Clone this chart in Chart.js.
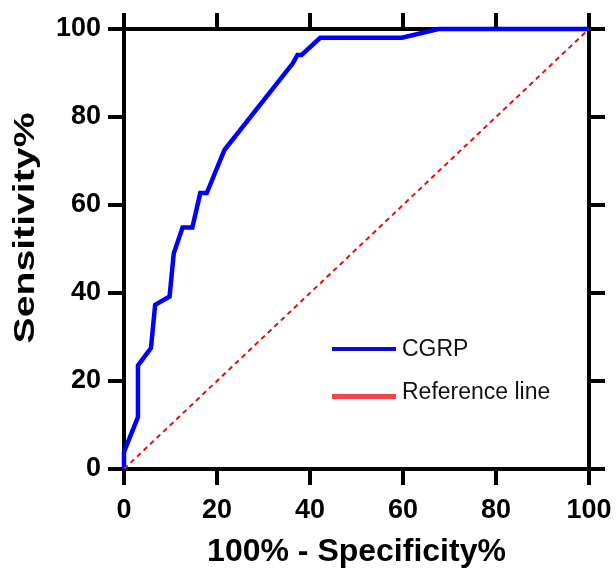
<!DOCTYPE html>
<html>
<head>
<meta charset="utf-8">
<script src="https://cdn.jsdelivr.net/npm/chart.js@4/dist/chart.umd.min.js"></script>
<style>
  html, body { margin: 0; padding: 0; background: #fff; }
  #wrap { width: 616px; height: 573px; }
</style>
</head>
<body>
<div id="wrap"><canvas id="c" width="616" height="573"></canvas></div>
<script>
// ---- data ----
const cgrpFpr = [0, 0, 3, 3, 5.8, 6.7, 9.8, 10.7, 12.6, 14.7, 16.4, 17.8, 21.6, 36.3, 37.3, 38.2, 42.2, 59.8, 67.6, 100];
const cgrpTpr = [0, 3.9, 11.8, 23.5, 27.5, 37.3, 39.2, 49.0, 54.9, 54.9, 62.7, 62.7, 72.5, 92.2, 94.1, 94.1, 98.0, 98.0, 100, 100];
const refX = [0, 100];
const refY = [0, 100];
const axisTicks = [0, 20, 40, 60, 80, 100];
const seriesNames = ['CGRP', 'Reference line'];
const xTitle = '100% - Specificity%';
const yTitle = 'Sensitivity%';

const FONT = '"Liberation Sans", Arial, Helvetica, sans-serif';
const toPts = (xs, ys) => xs.map((x, i) => ({ x: x, y: ys[i] }));

const boxAxis = (pos, size) => ({
  type: 'linear', position: pos, min: axisTicks[0], max: axisTicks[axisTicks.length - 1],
  afterBuildTicks: s => { s.ticks = axisTicks.map(v => ({ value: v })); },
  ticks: { display: false },
  grid: { drawOnChartArea: false, drawTicks: true, tickLength: 16, lineWidth: 4, color: '#000' },
  border: { display: true, color: '#000', width: 4 },
  afterFit: s => {
    if (pos === 'top' || pos === 'bottom') { s.height = size; } else { s.width = size; }
    s.paddingLeft = 0; s.paddingRight = 0; s.paddingTop = 0; s.paddingBottom = 0;
  }
});

const annot = {
  id: 'annot',
  afterDraw(chart) {
    const ctx = chart.ctx;
    // Y axis title
    ctx.save();
    ctx.font = 'bold 29px ' + FONT;
    ctx.fillStyle = '#000';
    ctx.textAlign = 'center';
    ctx.textBaseline = 'middle';
    const w = ctx.measureText(yTitle).width;
    ctx.translate(26, 228);
    ctx.rotate(-Math.PI / 2);
    ctx.scale(231 / w, 1);
    ctx.fillText(yTitle, 0, 0);
    ctx.restore();
    // Legend
    ctx.save();
    const items = [
      { label: seriesNames[0], color: '#0a0ad2', y: 349, lw: 4 },
      { label: seriesNames[1], color: '#f04646', y: 396.5, lw: 5 }
    ];
    ctx.font = '23px ' + FONT;
    ctx.textAlign = 'left';
    ctx.textBaseline = 'middle';
    items.forEach((it, i) => {
      ctx.strokeStyle = it.color;
      ctx.lineWidth = it.lw;
      ctx.beginPath();
      ctx.moveTo(332, it.y);
      ctx.lineTo(396, it.y);
      ctx.stroke();
      ctx.fillStyle = '#111';
      ctx.fillText(it.label, 402, it.y + (i === 0 ? 1 : -4));
    });
    ctx.restore();
  }
};

new Chart(document.getElementById('c'), {
  type: 'line',
  data: {
    datasets: [
      {
        label: seriesNames[1], data: toPts(refX, refY), borderColor: '#e01010', borderWidth: 2,
        borderDash: [5, 4], pointRadius: 0, tension: 0, fill: false, order: 0, clip: false
      },
      {
        label: seriesNames[0], data: toPts(cgrpFpr, cgrpTpr), borderColor: '#0000ff', borderWidth: 4.5,
        pointRadius: 0, tension: 0, fill: false, order: 1, clip: false, borderJoinStyle: 'miter'
      }
    ]
  },
  options: {
    responsive: false,
    animation: false,
    layout: { padding: 0 },
    plugins: { legend: { display: false }, tooltip: { enabled: false } },
    scales: {
      x: {
        type: 'linear', position: 'bottom', min: 0, max: 100,
        afterBuildTicks: s => { s.ticks = axisTicks.map(v => ({ value: v })); },
        ticks: { color: '#000', font: { family: FONT, size: 27, weight: 'bold' }, padding: 9, maxRotation: 0 },
        grid: { drawOnChartArea: false, drawTicks: true, tickLength: 16, lineWidth: 4, color: '#000' },
        border: { display: true, color: '#000', width: 4 },
        title: { display: true, text: xTitle, color: '#000', font: { family: FONT, size: 32, weight: 'bold', lineHeight: 1 }, padding: { top: 0, bottom: 5 } },
        afterFit: s => { s.height = 104; s.paddingLeft = 0; s.paddingRight = 0; }
      },
      y: {
        type: 'linear', position: 'left', min: 0, max: 100,
        afterBuildTicks: s => { s.ticks = axisTicks.map(v => ({ value: v })); },
        ticks: { color: '#000', font: { family: FONT, size: 27, weight: 'bold' }, padding: 7 },
        grid: { drawOnChartArea: false, drawTicks: true, tickLength: 16, lineWidth: 4, color: '#000' },
        border: { display: true, color: '#000', width: 4 },
        afterFit: s => { s.width = 124; s.paddingTop = 0; s.paddingBottom = 0; }
      },
      x2: boxAxis('top', 29),
      y2: boxAxis('right', 27)
    }
  },
  plugins: [annot]
});
</script>
</body>
</html>
